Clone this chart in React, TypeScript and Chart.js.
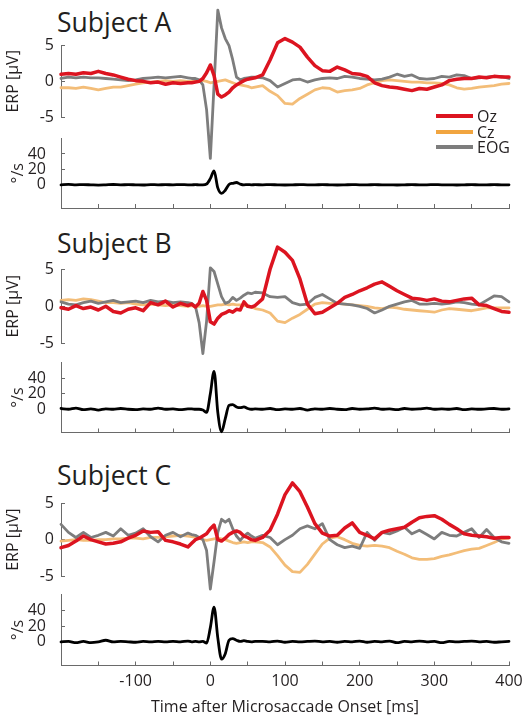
import React, { useEffect, useRef } from 'react';
import { Chart, registerables } from 'chart.js';

Chart.register(...registerables);

const FONT = '"Open Sans", "DejaVu Sans", sans-serif';
const TEXT = '#231f20';
const AXIS = '#6a6a6a';
const C_OZ = '#dc1420';
const C_CZ = '#f3bd78';
const C_CZ_LEGEND = '#f1a540';
const C_EOG = '#7d7d7d';
const C_VEL = '#000000';

// time axis (ms after microsaccade onset)
const T = [
  -200, -190, -180, -170, -160, -150, -140, -130, -120, -110, -100, -90, -80, -70, -60, -50, -40, -30,
  -25, -20, -15, -10, -5, 0, 5, 10, 15, 20, 25, 30, 35, 40, 45, 50, 55, 60,
  70, 80, 90, 100, 110, 120, 130, 140, 150, 160, 170, 180, 190, 200, 210, 220, 230, 240, 250, 260,
  270, 280, 290, 300, 310, 320, 330, 340, 350, 360, 370, 380, 390, 400,
];

// ---- Subject A ----
const ozA = [
  1.0, 1.1, 1.0, 1.2, 1.1, 1.4, 1.1, 0.9, 0.6, 0.3, 0.1, 0.0, -0.2, -0.1, -0.4, -0.2, -0.3, -0.2,
  -0.2, -0.1, 0.0, 0.4, 1.2, 2.3, 0.8, -1.8, -2.2, -1.9, -1.5, -0.9, -0.5, -0.2, 0.1, 0.3, 0.4, 0.5,
  0.9, 3.0, 5.4, 6.0, 5.5, 4.8, 3.4, 2.2, 1.5, 1.4, 2.0, 1.6, 1.1, 1.0, 0.7, -0.2, -0.6, -0.8, -0.9, -1.1,
  -1.3, -1.0, -1.1, -0.8, -0.5, 0.1, 0.3, 0.4, 0.4, 0.6, 0.5, 0.7, 0.6, 0.6,
];
const czA = [
  -0.9, -0.9, -1.0, -0.8, -1.0, -1.2, -1.0, -0.8, -0.8, -0.6, -0.4, -0.2, -0.1, 0.0, 0.1, 0.0, 0.1, 0.0,
  0.0, 0.1, 0.1, 0.1, 0.0, -0.2, -0.1, 0.0, 0.1, 0.2, 0.0, -0.2, -0.4, -0.5, -0.6, -0.7, -0.9, -0.8,
  -0.6, -1.4, -2.0, -3.1, -3.2, -2.4, -1.8, -1.2, -0.9, -1.0, -1.5, -1.3, -1.2, -1.0, -0.5, -0.2, 0.1, 0.2, 0.1, 0.0,
  -0.1, -0.1, -0.2, -0.2, -0.3, -0.5, -0.9, -1.1, -1.0, -0.8, -0.7, -0.6, -0.4, -0.3,
];
const eogA = [
  0.4, 0.6, 0.5, 0.6, 0.5, 0.5, 0.4, 0.3, 0.2, 0.1, 0.2, 0.4, 0.5, 0.6, 0.5, 0.6, 0.7, 0.5,
  0.4, 0.4, 0.2, -0.5, -4.0, -10.8, -0.5, 10.0, 7.5, 6.0, 5.0, 3.0, 0.6, 0.2, 0.4, 0.5, 0.6, 0.6,
  0.5, 0.1, -0.8, -0.3, 0.2, 0.3, -0.1, 0.2, 0.4, 0.5, 0.4, 0.7, 0.6, 0.4, 0.3, 0.2, 0.3, 0.6, 1.0, 0.7,
  0.9, 0.4, 0.3, 0.4, 0.7, 0.6, 0.9, 0.8, 0.4, 0.5, 0.6, 0.7, 0.7, 0.4,
];
const velA = [
  0, 0.5, 0, 0.3, 0, -0.3, 0, 0.4, 0, 0.2, 0, -0.2, 0.3, 0, 0.2, 0, 0.3, 0,
  0, 0.2, 0, 0, 1, 8, 18, -4, -11, -7, 0.5, 2, 3, 1, 0, 0.3, 0, 0.2,
  0, 0.3, 0, -0.2, 0, 0.3, 0, 0, 0.2, 0, -0.2, 0, 0.3, 0, 0, 0.2, 0, 0, -0.2, 0,
  0.2, 0, 0, 0.3, 0, 0, -0.2, 0, 0.2, 0, 0, 0.2, 0, 0,
];

// ---- Subject B ----
const ozB = [
  -0.2, -0.4, 0.1, -0.3, -0.1, -0.5, 0.0, -0.7, -0.9, -0.4, -0.2, -0.6, 0.5, 0.2, 0.7, -0.1, 0.4, 0.1,
  0.3, -0.1, 0.4, 2.0, 0.8, -2.1, -2.4, -1.6, -1.1, -0.9, -0.6, -0.8, -0.4, -0.5, 0.6, 0.0, -0.1, 0.1,
  1.0, 5.0, 8.0, 7.3, 6.2, 3.7, 0.3, -1.0, -0.8, -0.2, 0.4, 1.2, 1.6, 2.1, 2.5, 3.0, 3.3, 2.7, 2.1, 1.6,
  1.1, 1.0, 0.8, 1.0, 0.7, 0.6, 0.8, 1.0, 1.1, 0.2, 0.1, -0.3, -0.7, -0.8,
];
const czB = [
  0.8, 0.9, 0.8, 1.0, 0.9, 0.7, 0.5, 0.5, 0.4, 0.5, 0.3, 0.2, 0.3, 0.2, 0.1, 0.2, 0.1, 0.0,
  0.1, 0.0, 0.0, 0.1, 0.0, 0.0, 0.1, 0.2, 0.2, 0.3, 0.2, 0.3, 0.2, 0.2, 0.1, 0.1, -0.1, -0.3,
  -0.5, -0.9, -2.0, -2.2, -1.6, -1.1, -0.4, 0.3, 0.5, 0.4, 0.4, 0.3, 0.2, 0.1, 0.0, -0.2, -0.3, -0.1, -0.2, -0.4,
  -0.5, -0.6, -0.7, -0.8, -0.5, -0.3, -0.4, -0.5, -0.6, -0.4, -0.2, -0.2, -0.2, -0.2,
];
const eogB = [
  0.6, 0.3, 0.2, 0.5, 0.7, 0.4, 0.6, 0.8, 0.5, 0.6, 0.7, 0.5, 0.8, 0.6, 0.7, 0.5, 0.6, 0.5,
  0.4, 0.0, -2.2, -6.4, -2.0, 5.2, 4.7, 3.0, 1.3, 0.4, 0.6, 1.2, 0.8, 1.1, 1.5, 1.8, 1.7, 1.9,
  1.8, 1.3, 1.2, 1.3, 0.5, 0.2, 0.3, 1.2, 1.6, 1.0, 0.4, 0.3, 0.2, 0.0, -0.3, -0.9, -0.5, 0.0, 0.3, 0.6,
  0.8, 0.3, 0.3, 0.4, 0.3, 0.4, 0.6, 0.5, 0.3, 0.2, 0.8, 1.4, 1.3, 0.6,
];
const velB = [
  1, 0, 1.5, -0.5, 0.5, -1, 0.5, 0, 1, 0, -0.5, 0.5, 0, 1.5, 0, 0.5, -0.5, 0.5,
  0.5, 0, 0, -1, -4, 20, 49, -4, -29, -12, 5, 6, 3, 2, 3, 1, 0, 0.5,
  0, 1, -0.5, 0.5, 0, 1, -1, 0.5, 0, 1, 0, -0.5, 1, 0, 0.5, 1.5, 0, 0.5, -0.5, 1,
  0, 0.5, 1.5, 0, 0.5, 0, 1, -0.5, 0.5, 0, 0.5, 1, 0, 0.5,
];

// ---- Subject C ----
const ozC = [
  -1.1, -0.8, -0.2, 0.5, 0.0, -0.3, -0.6, -0.5, -0.3, 0.2, 0.6, 1.2, 1.0, 1.1, -0.1, -0.3, -0.6, -1.0,
  -0.5, 0.0, 0.2, 0.5, 0.8, 1.5, 2.0, 0.0, -0.2, 0.2, 0.7, 1.0, 1.2, 1.0, 0.5, 0.3, 0.0, -0.1,
  0.3, 1.3, 3.5, 6.2, 7.8, 6.6, 4.5, 2.2, 0.9, 0.5, 0.6, 1.6, 2.3, 1.0, 0.6, 0.1, 1.0, 1.3, 1.5, 1.7,
  2.4, 3.0, 3.2, 3.3, 2.8, 2.1, 1.5, 0.8, 0.6, 0.5, 0.4, 0.2, 0.3, 0.3,
];
const czC = [
  -0.2, -0.1, 0.0, -0.1, -0.1, 0.0, 0.0, 0.1, 0.1, 0.2, 0.2, 0.1, 0.3, 0.3, 0.4, 0.5, 0.6, 0.5,
  0.4, 0.3, 0.2, 0.0, -0.1, 0.0, 0.1, 0.2, 0.1, 0.0, -0.2, -0.4, -0.5, -0.4, -0.3, -0.4, -0.3, -0.3,
  -0.4, -1.0, -2.2, -3.5, -4.4, -4.5, -3.4, -2.0, -0.6, 0.2, 0.4, 0.0, -0.5, -0.8, -0.9, -0.8, -0.9, -1.1, -1.6, -2.0,
  -2.5, -2.7, -2.7, -2.6, -2.3, -2.1, -1.8, -1.5, -1.3, -1.2, -0.8, -0.4, 0.1, 0.2,
];
const eogC = [
  2.1, 1.0, 0.3, 1.0, 0.3, 0.6, 1.0, 0.5, 1.5, 0.6, 0.9, 1.5, 0.4, -0.3, 0.6, 1.0, 0.4, 0.9,
  0.7, 0.6, 0.3, 0.0, -1.5, -6.8, -3.0, 1.0, 2.8, 2.4, 2.8, 1.5, 0.5, -0.1, 0.5, 0.9, 0.5, 0.2,
  0.6, 0.3, -0.7, 0.0, 0.6, 1.5, 1.9, 1.5, 2.2, 0.0, -0.7, -1.1, -0.9, -1.2, 1.0, -0.1, 1.0, 0.8, 1.2, 1.7,
  0.8, 1.3, 0.7, 0.1, 1.0, 0.6, 0.5, 1.0, 1.5, 0.3, 1.4, 0.3, -0.3, -0.5,
];
const velC = [
  0, 0.5, -1, 0.5, -1, 0, 2, 0, 0.5, 0, -0.5, 0.5, 0, 0.5, 0, 0.5, 0, 1,
  0, 0.5, 0, 0.5, -1.5, 18, 44, 5, -22, -15, 2, 4, 2, 0.5, 1.5, 0.5, 0, 0.5,
  0.5, 0, 1, -0.5, 0.5, 0, 0.5, 1, 0, 0.5, -0.5, 0.5, 0, 1, -0.5, 0.5, 0, 1, -1, 0.5,
  0, 1, 0, 0.5, -1, 0.5, 0, 0.5, 1, 0, 0.5, -0.5, 0, 0.5,
];

// ticks and labels
const X_TICK_VALUES = [-200, -150, -100, -50, 0, 50, 100, 150, 200, 250, 300, 350, 400];
const X_TICK_LABELS = ['', '', '-100', '', '0', '', '100', '', '200', '', '300', '', '400'];
const ERP_TICKS = [-5, 0, 5];
const VEL_TICKS = [0, 20, 40];
const SUBJECTS = ['Subject A', 'Subject B', 'Subject C'];
const SERIES_NAMES = ['Oz', 'Cz', 'EOG'];

const X_TITLE = 'Time after Microsaccade Onset [ms]';

type PanelProps = {
  kind: 'erp' | 'vel';
  top: number;
  height: number;
  padTop: number;
  padBottom: number;
  xAxisHeight: number;
  showXLabels: boolean;
  series: { data: number[]; color: string; width: number; order: number }[];
};

const tickFont = { family: FONT, size: 16 };

function Panel(props: PanelProps) {
  const ref = useRef<HTMLCanvasElement | null>(null);
  useEffect(() => {
    if (!ref.current) return;
    const datasets = props.series.map((s) => ({
      data: T.map((t, i) => ({ x: t, y: s.data[i] })),
      borderColor: s.color,
      backgroundColor: s.color,
      borderWidth: s.width,
      pointRadius: 0,
      tension: 0,
      cubicInterpolationMode: props.kind === 'vel' ? ('monotone' as const) : ('default' as const),
      clip: false as const,
      order: s.order,
      borderJoinStyle: 'round' as const,
      borderCapStyle: 'round' as const,
    }));
    const isErp = props.kind === 'erp';
    const yTicks = isErp ? ERP_TICKS : VEL_TICKS;
    const chart = new Chart(ref.current, {
      type: 'line',
      data: { datasets },
      options: {
        animation: false,
        responsive: false,
        events: [],
        layout: { padding: { left: 0, right: 21, top: props.padTop, bottom: props.padBottom } },
        plugins: { legend: { display: false }, tooltip: { enabled: false } },
        scales: {
          x: {
            type: 'linear',
            min: -200,
            max: 400,
            display: !isErp,
            afterBuildTicks: (s: any) => {
              s.ticks = X_TICK_VALUES.map((v) => ({ value: v }));
            },
            afterFit: (s: any) => {
              s.height = props.xAxisHeight;
              s.paddingLeft = 0;
              s.paddingRight = 0;
              s.paddingTop = 0;
              s.paddingBottom = 0;
            },
            border: { display: true, color: AXIS, width: 1 },
            grid: { drawOnChartArea: false, drawTicks: true, tickLength: -4, color: AXIS, lineWidth: 1 },
            ticks: {
              display: props.showXLabels,
              autoSkip: false,
              maxRotation: 0,
              padding: 10,
              color: TEXT,
              font: tickFont,
              callback: (_v: any, i: number) => X_TICK_LABELS[i],
            },
            title: {
              display: props.showXLabels,
              text: X_TITLE,
              color: TEXT,
              font: { family: FONT, size: 16 },
              padding: { top: 0, bottom: 4 },
            },
          },
          y: {
            type: 'linear',
            min: isErp ? -5 : -30,
            max: isErp ? 5 : 60,
            afterBuildTicks: (s: any) => {
              s.ticks = yTicks.map((v) => ({ value: v }));
            },
            afterFit: (s: any) => {
              s.width = 61;
              s.paddingLeft = 0;
              s.paddingRight = 0;
              s.paddingTop = 0;
              s.paddingBottom = 0;
            },
            border: { display: true, color: AXIS, width: 1 },
            grid: { drawOnChartArea: false, drawTicks: true, tickLength: -4, color: AXIS, lineWidth: 1 },
            ticks: { padding: isErp ? 11 : 19, color: TEXT, font: tickFont },
            title: {
              display: true,
              text: isErp ? 'ERP [µV]' : '°/s',
              color: TEXT,
              font: { family: FONT, size: 16 },
              padding: { top: isErp ? 4 : 9, bottom: 0 },
            },
          },
        },
      },
    } as any);
    return () => chart.destroy();
  }, []);
  return (
    <canvas
      ref={ref}
      width={530}
      height={props.height}
      style={{ position: 'absolute', left: 0, top: props.top, width: 530, height: props.height }}
    />
  );
}

const erpSeries = (oz: number[], cz: number[], eog: number[]) => [
  { data: oz, color: C_OZ, width: 3.5, order: 1 },
  { data: eog, color: C_EOG, width: 2.8, order: 2 },
  { data: cz, color: C_CZ, width: 2.8, order: 3 },
];
const velSeries = (v: number[]) => [{ data: v, color: C_VEL, width: 2.8, order: 1 }];

const titleStyle = (top: number): React.CSSProperties => ({
  position: 'absolute',
  left: 57,
  top,
  fontFamily: FONT,
  fontSize: 26.5,
  lineHeight: '26.5px',
  color: TEXT,
  whiteSpace: 'nowrap',
});

export default function App() {
  const legendColors = [C_OZ, C_CZ_LEGEND, C_EOG];
  const legendY = [116, 131.5, 146.5];
  return (
    <div style={{ position: 'absolute', left: 0, top: 0, width: 530, height: 721, background: '#fff', overflow: 'hidden' }}>
      <div style={titleStyle(8.8)}>{SUBJECTS[0]}</div>
      <div style={titleStyle(229.7)}>{SUBJECTS[1]}</div>
      <div style={titleStyle(461.7)}>{SUBJECTS[2]}</div>

      <Panel kind="erp" top={0} height={170} padTop={45.7} padBottom={53} xAxisHeight={0} showXLabels={false} series={erpSeries(ozA, czA, eogA)} />
      <Panel kind="vel" top={125} height={95} padTop={13.5} padBottom={0} xAxisHeight={12} showXLabels={false} series={velSeries(velA)} />

      <Panel kind="erp" top={220} height={145} padTop={49.3} padBottom={21.7} xAxisHeight={0} showXLabels={false} series={erpSeries(ozB, czB, eogB)} />
      <Panel kind="vel" top={355} height={85} padTop={7.8} padBottom={0} xAxisHeight={7.5} showXLabels={false} series={velSeries(velB)} />

      <Panel kind="erp" top={450} height={145} padTop={53.3} padBottom={19} xAxisHeight={0} showXLabels={false} series={erpSeries(ozC, czC, eogC)} />
      <Panel kind="vel" top={588} height={133} padTop={6.5} padBottom={0} xAxisHeight={55.5} showXLabels={true} series={velSeries(velC)} />

      {SERIES_NAMES.map((name, i) => (
        <div key={name}>
          <div
            style={{
              position: 'absolute',
              left: 436,
              top: legendY[i] - 2,
              width: 37,
              height: 4,
              background: legendColors[i],
            }}
          />
          <div
            style={{
              position: 'absolute',
              left: 477,
              top: legendY[i] - 11,
              fontFamily: FONT,
              fontSize: 16,
              lineHeight: '22px',
              color: TEXT,
            }}
          >
            {name}
          </div>
        </div>
      ))}
    </div>
  );
}
